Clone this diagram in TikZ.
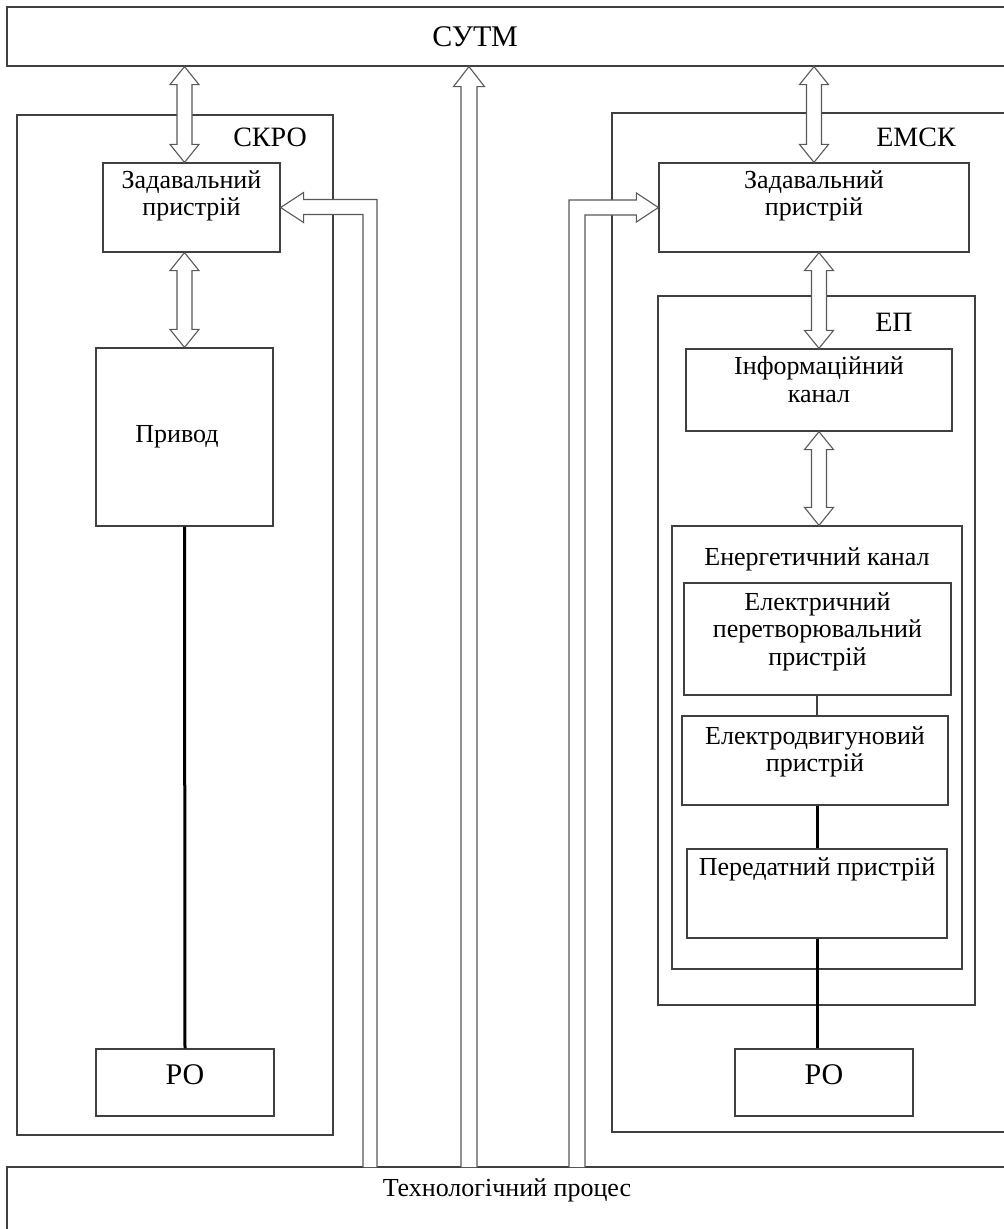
\documentclass[tikz,border=0pt]{standalone}
\usepackage{fontspec}
\setmainfont{Liberation Serif}
\usetikzlibrary{positioning,calc}

\tikzset{
  box/.style={draw=black!75, line width=1.2pt, inner sep=0pt},
  sz/.style 2 args={minimum width=#1, minimum height=#2},
  txt/.style={inner sep=0pt, align=center, font=\fontsize{26}{27.5}\selectfont},
  lbl/.style={inner sep=0pt, font=\fontsize{28}{30}\selectfont},
  bigtxt/.style={inner sep=0pt, font=\fontsize{30}{32}\selectfont},
  fat/.style={draw=black!65, line width=1.1pt, fill=white, line join=miter},
  shaft/.style={draw=black, line width=3pt},
  thin/.style={draw=black!75, line width=1.2pt},
}

\newcommand{\bidir}[2]{%
  \draw[fat] let \p1=(#1), \p2=(#2) in
    (\x1,\y1) -- (\x1+14.5pt,\y1-18pt) -- (\x1+7.5pt,\y1-18pt)
    -- (\x1+7.5pt,\y2+18pt) -- (\x1+14.5pt,\y2+18pt) -- (\x1,\y2)
    -- (\x1-14.5pt,\y2+18pt) -- (\x1-7.5pt,\y2+18pt)
    -- (\x1-7.5pt,\y1-18pt) -- (\x1-14.5pt,\y1-18pt) -- cycle;}

\begin{document}
\begin{tikzpicture}[x=1pt,y=-1pt]
\useasboundingbox (0,0) rectangle (1004,1229);

% outer blocks
\node[box, sz={1005pt}{59pt}] (sutm) at (509.5,36.5) {};
\node[bigtxt] (sutmtxt) at (475,37) {СУТМ};
\node[box, sz={316pt}{1020pt}] (skro) at (175,625) {};
\node[lbl] (skrotxt) at (270,137) {СКРО};
\node[box, sz={400pt}{1019pt}] (emsk) at (812,622.5) {};
\node[lbl] (emsktxt) at (916,137) {ЕМСК};
\node[box, sz={1005pt}{73pt}] (tech) at (509.5,1203.5) {};
\node[txt] (techtxt) at (507,1190) {Технологічний процес};

% СКРО
\node[box, sz={177pt}{89pt}] (zl) at (191.5,207.5) {};
\node[txt, below=8pt of zl.north] (zltxt) {Задавальний\\пристрій};
\node[box, sz={177pt}{178pt}] (privod) at (184.5,437) {};
\node[txt] (privodtxt) at (177,437) {Привод};
\node[box, sz={178pt}{67pt}] (pol) at (185,1082.5) {};
\node[bigtxt] (poltxt) at (185,1075) {РО};

% ЕМСК
\node[box, sz={310pt}{89pt}] (zr) at (814,207.5) {};
\node[txt, below=8pt of zr.north] (zrtxt) {Задавальний\\пристрій};
\node[box, sz={317pt}{709pt}] (ep) at (816.5,650.5) {};
\node[lbl] (eptxt) at (894,322) {ЕП};
\node[box, sz={266pt}{82pt}] (info) at (819,390) {};
\node[txt, below=8pt of info.north] (infotxt) {Інформаційний\\канал};
\node[box, sz={290pt}{443pt}] (energy) at (817,747.5) {};
\node[txt, below=22pt of energy.north] (energytxt) {Енергетичний канал};
\node[box, sz={267pt}{112pt}] (elec) at (817.5,639) {};
\node[txt, below=10pt of elec.north] (electxt) {Електричний\\перетворювальний\\пристрій};
\node[box, sz={266pt}{89pt}] (motor) at (815,760.5) {};
\node[txt, below=11pt of motor.north] (motortxt) {Електродвигуновий\\пристрій};
\node[box, sz={260pt}{89pt}] (gear) at (817,893.5) {};
\node[txt, below=9pt of gear.north] (geartxt) {Передатний пристрій};
\node[box, sz={178pt}{67pt}] (por) at (824,1082.5) {};
\node[bigtxt] (portxt) at (824,1075) {РО};

% links
\draw[shaft] (privod.south) -- (pol.north);
\draw[thin] (gear.north |- elec.south) -- (gear.north |- motor.north);
\draw[shaft] (gear.north |- motor.south) -- (gear.north);
\draw[shaft] (gear.south) -- (gear.south |- por.north);

\bidir{privod.north |- sutm.south}{privod.north |- zl.north}
\bidir{privod.north |- zl.south}{privod.north}
\bidir{zr.north |- sutm.south}{zr.north}
\bidir{info.north |- zr.south}{info.north}
\bidir{info.south}{info.south |- energy.north}

% buses from the process
\coordinate (lbus) at (370,1167);
\coordinate (cbus) at (469,1167);
\coordinate (rbus) at (577,1167);
\draw[fat] let \p1=(zl.east), \p2=(lbus) in
  (\x2+7pt,\y2) |- (\x1+23pt,\y1+8pt) -- (\x1+23pt,\y1+15pt) -- (\x1,\y1)
  -- (\x1+23pt,\y1-15pt) -- (\x1+23pt,\y1-7pt) -| (\x2-7pt,\y2);
\draw[fat] let \p1=(cbus |- sutm.south), \p2=(cbus) in
  (\x1-8pt,\y2) -- (\x1-8pt,\y1-20pt) -- (\x1-15.5pt,\y1-20pt) -- (\x1,\y1)
  -- (\x1+15.5pt,\y1-20pt) -- (\x1+8pt,\y1-20pt) -- (\x1+8pt,\y2);
\draw[fat] let \p1=(zr.west), \p2=(rbus) in
  (\x2-8pt,\y2) |- (\x1-22pt,\y1+7.5pt) -- (\x1-22pt,\y1+14.5pt) -- (\x1,\y1)
  -- (\x1-22pt,\y1-14.5pt) -- (\x1-22pt,\y1-7.5pt) -| (\x2+8pt,\y2);
\end{tikzpicture}
\end{document}
